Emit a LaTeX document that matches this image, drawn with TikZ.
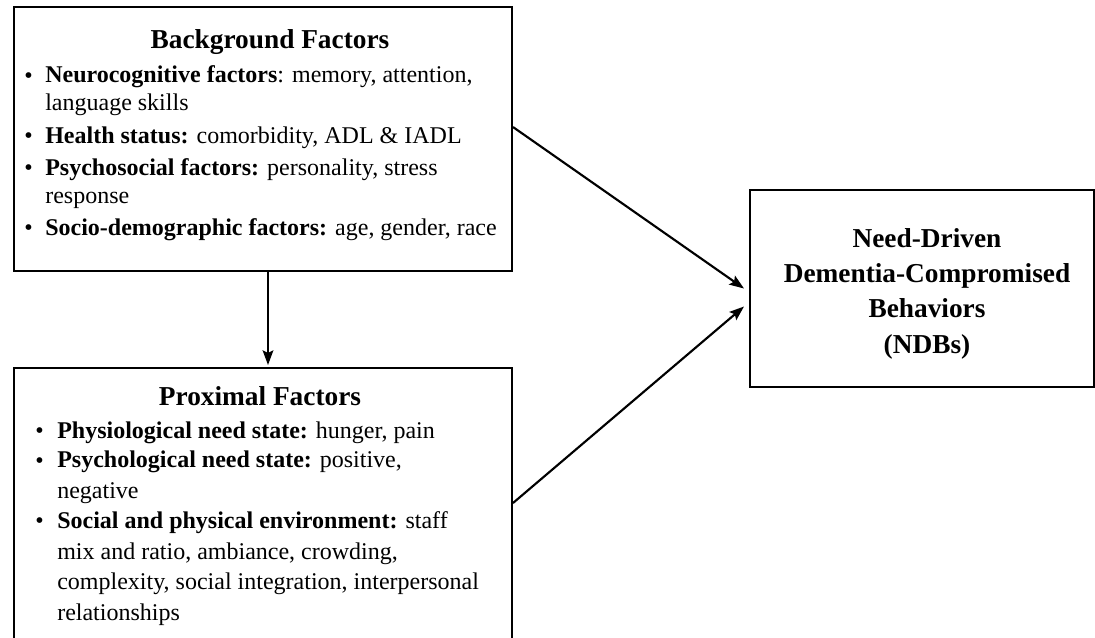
\documentclass[tikz,border=0pt]{standalone}
\usepackage{fontspec}
\setmainfont{Liberation Serif}
\usetikzlibrary{arrows.meta,fit,calc}
\newcommand\bgfont{\fontsize{18}{20.5}\selectfont}
\newcommand\pxfont{\fontsize{18}{22.8}\selectfont}
\newcommand\headfont{\fontsize{20.5}{24}\selectfont\bfseries}
\newcommand\ndbfont{\fontsize{20.5}{26.5}\selectfont\bfseries}
\tikzset{
  box/.style={draw, line width=1.5pt, inner sep=0pt},
  bgtxt/.style={anchor=base west, align=left, inner sep=0pt, font=\bgfont},
  pxtxt/.style={anchor=base west, align=left, inner sep=0pt, font=\pxfont},
  bul/.style={anchor=base west, inner sep=0pt, font=\bgfont},
  head/.style={anchor=base, inner sep=0pt, font=\headfont},
  arr/.style={line width=1.6pt, -{Stealth[length=11pt,width=8pt,inset=2pt]}}
}
\begin{document}
\begin{tikzpicture}[x=0.75pt,y=-0.75pt]
\useasboundingbox (0,0) rectangle (1095,637);
\clip (0,0) rectangle (1095,637);
% boxes
\node[box, fit={(14,7) (512,271)}] (bg) {};
\node[box, fit={(14,368) (512,660)}] (px) {};
\node[box, fit={(750,190) (1094,387)}] (ndb) {};
% background factors (node base = baseline of last line)
\node[head] (bgh) at (270,48) {Background Factors};
\node[bul] (b1) at (24,83) {\textbullet};
\node[bgtxt] (t1) at (45,110) {\textbf{Neurocognitive factors}: memory, attention,\\language skills};
\node[bul] (b2) at (24,143) {\textbullet};
\node[bgtxt] (t2) at (45,143) {\textbf{Health status:} comorbidity, ADL \& IADL};
\node[bul] (b3) at (24,175) {\textbullet};
\node[bgtxt] (t3) at (45,203) {\textbf{Psychosocial factors:} personality, stress\\response};
\node[bul] (b4) at (24,235) {\textbullet};
\node[bgtxt] (t4) at (45,235) {\textbf{Socio-demographic factors:} age, gender, race};
% proximal factors
\node[head] (pxh) at (260,405) {Proximal Factors};
\node[bul] (p1) at (35,438) {\textbullet};
\node[pxtxt] (q1) at (57,438) {\textbf{Physiological need state:} hunger, pain};
\node[bul] (p2) at (35,468) {\textbullet};
\node[pxtxt] (q2) at (57,498) {\textbf{Psychological need state:} positive,\\negative};
\node[bul] (p3) at (35,528) {\textbullet};
\node[pxtxt] (q3) at (57,620) {\textbf{Social and physical environment:} staff\\mix and ratio, ambiance, crowding,\\complexity, social integration, interpersonal\\relationships};
% NDB
\node[anchor=base, align=center, inner sep=0pt, font=\ndbfont] (ndbt) at (927,353) {Need-Driven\\Dementia-Compromised\\Behaviors\\(NDBs)};
% connectors
\draw[arr] ($(bg.north east)!0.455!(bg.south east)$) -- ($(ndb.west)+(-5,0)$);
\draw[arr] ($(px.east)+(0,-11)$) -- ($(ndb.west)+(-5,18)$);
\draw[arr] ($(bg.south)+(5,0)$) -- ($(px.north)+(5,-2)$);
\end{tikzpicture}
\end{document}
